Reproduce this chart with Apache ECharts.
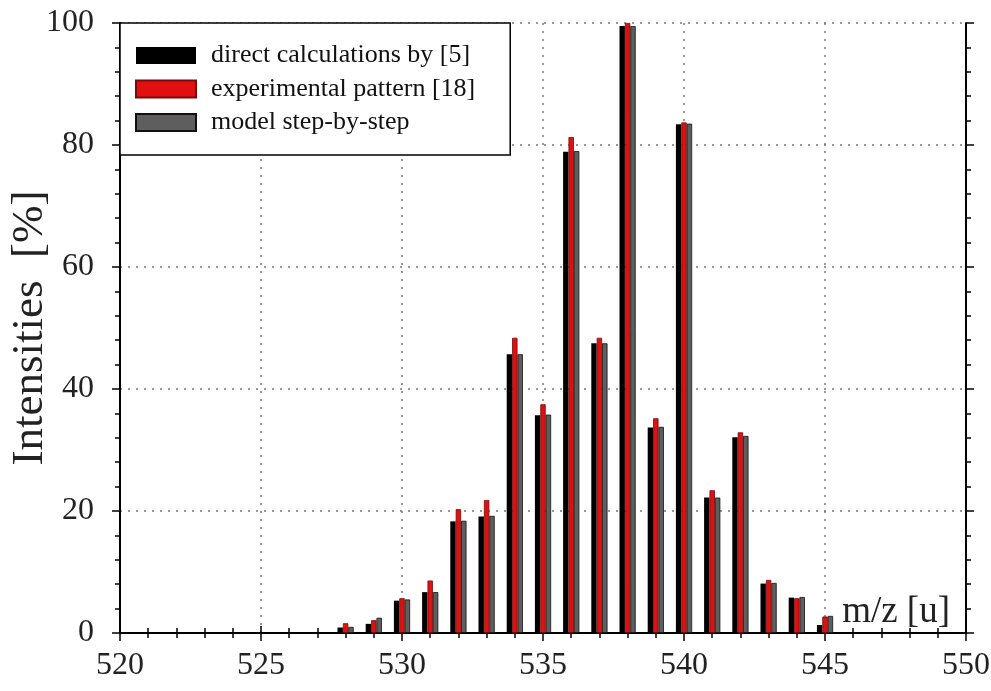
<!DOCTYPE html>
<html>
<head>
<meta charset="utf-8">
<script src="https://cdn.jsdelivr.net/npm/echarts@6/dist/echarts.min.js"></script>
<style>
html,body{margin:0;padding:0;background:#fff;}
#chart{width:991px;height:691px;}
</style>
</head>
<body>
<div id="chart"></div>
<script>
var massNumbers = [528, 529, 530, 531, 532, 533, 534, 535, 536, 537, 538, 539, 540, 541, 542, 543, 544, 545];
var directCalc = [0.9, 1.5, 5.3, 6.7, 18.3, 19.1, 45.7, 35.7, 78.9, 47.5, 99.5, 33.7, 83.4, 22.2, 32.1, 8.1, 5.8, 1.3];
var experimental = [1.6, 2.1, 5.7, 8.6, 20.3, 21.8, 48.4, 37.5, 81.3, 48.4, 100, 35.2, 83.7, 23.4, 32.9, 8.7, 5.7, 2.7];
var modelStep = [1.0, 2.5, 5.5, 6.7, 18.4, 19.2, 45.7, 35.8, 79.0, 47.5, 99.5, 33.8, 83.5, 22.2, 32.3, 8.2, 5.9, 2.8];
var seriesNames = ['direct calculations by [5]', 'experimental pattern [18]', 'model step-by-step'];

function pairs(vals) {
  return massNumbers.map(function (m, i) { return [m, vals[i]]; });
}

var FONT = '"Liberation Serif", "DejaVu Serif", serif';
var chart = echarts.init(document.getElementById('chart'));

var axisLine = { show: true, lineStyle: { color: '#000', width: 2 } };
var split = { show: true, lineStyle: { color: '#777', type: [2, 6], width: 1.5 } };

function barSeries(name, vals, color, border) {
  return {
    name: name,
    type: 'bar',
    data: pairs(vals),
    barWidth: 5.4,
    barGap: '0%',
    itemStyle: { color: color, borderColor: border, borderWidth: border ? 0.8 : 0 },
    xAxisIndex: 0,
    yAxisIndex: 0,
    z: 3
  };
}

chart.setOption({
  backgroundColor: '#fff',
  animation: false,
  grid: { left: 120, right: 25, top: 23, bottom: 58, containLabel: false, outerBoundsMode: 'none' },
  legend: {
    left: 120,
    top: 23,
    orient: 'vertical',
    data: seriesNames,
    icon: 'rect',
    itemWidth: 60,
    itemHeight: 17,
    itemGap: 7.5,
    padding: [19.5, 35, 19.5, 15],
    backgroundColor: '#fff',
    borderColor: '#000',
    borderWidth: 1.5,
    borderRadius: 0,
    z: 10,
    textStyle: { fontFamily: FONT, fontSize: 26, color: '#111', padding: [0, 0, 0, 10] }
  },
  xAxis: [
    {
      type: 'value', min: 520, max: 550, interval: 5,
      name: 'm/z [u]', nameLocation: 'end',
      nameTextStyle: { fontFamily: FONT, fontSize: 37, color: '#222', align: 'right', verticalAlign: 'bottom', padding: [0, 16, 2, 0] },
      nameGap: 0,
      axisLine: axisLine,
      axisTick: { show: true, inside: false, length: 8, lineStyle: { color: '#000', width: 1.5 } },
      minorTick: { show: true, splitNumber: 5, length: 5, lineStyle: { color: '#000', width: 1.5 } },
      axisLabel: { fontFamily: FONT, fontSize: 32, color: '#222', margin: 17 },
      splitLine: split
    },
    {
      type: 'value', min: 520, max: 550, interval: 5, position: 'top',
      axisLine: axisLine,
      axisTick: { show: true, inside: false, length: 7, lineStyle: { color: '#000', width: 1.5 } },
      minorTick: { show: true, splitNumber: 5, length: 5, lineStyle: { color: '#000', width: 1.5 } },
      axisLabel: { show: false },
      splitLine: { show: false }
    }
  ],
  yAxis: [
    {
      type: 'value', min: 0, max: 100, interval: 20,
      name: 'Intensities  [%]', nameLocation: 'middle', nameGap: 67, nameMoveOverlap: false,
      nameTextStyle: { fontFamily: FONT, fontSize: 45, color: '#222' },
      axisLine: axisLine,
      axisTick: { show: true, inside: false, length: 8, lineStyle: { color: '#000', width: 1.5 } },
      minorTick: { show: true, splitNumber: 5, length: 5, lineStyle: { color: '#000', width: 1.5 } },
      axisLabel: { fontFamily: FONT, fontSize: 32, color: '#222', margin: 26 },
      splitLine: split
    },
    {
      type: 'value', min: 0, max: 100, interval: 20, position: 'right',
      axisLine: axisLine,
      axisTick: { show: true, inside: false, length: 8, lineStyle: { color: '#000', width: 1.5 } },
      minorTick: { show: true, splitNumber: 5, length: 5, lineStyle: { color: '#000', width: 1.5 } },
      axisLabel: { show: false },
      splitLine: { show: false }
    }
  ],
  series: [
    barSeries(seriesNames[0], directCalc, '#000', null),
    barSeries(seriesNames[1], experimental, '#e01010', '#7a0a0a'),
    barSeries(seriesNames[2], modelStep, '#5e5e5e', '#111')
  ]
});
</script>
</body>
</html>
